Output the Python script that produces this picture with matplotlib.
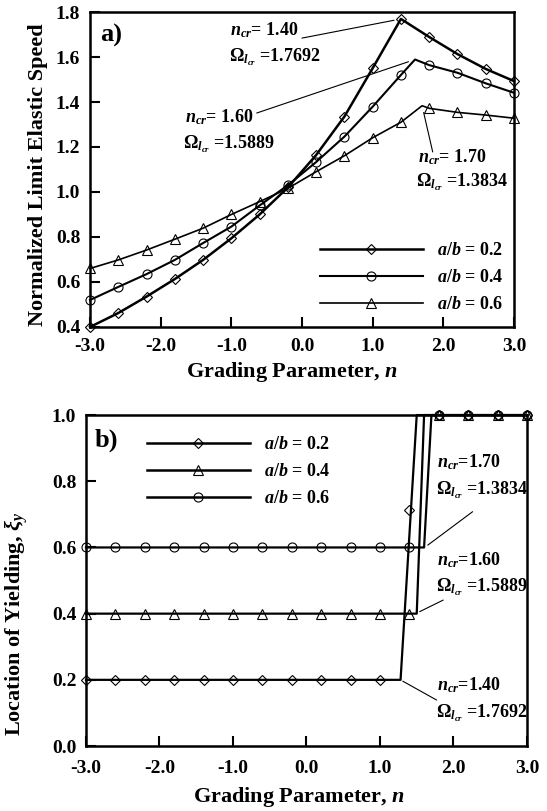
import numpy as np
import matplotlib
matplotlib.use('Agg')
import matplotlib.pyplot as plt

plt.rcParams['font.family'] = 'Liberation Serif'
plt.rcParams['font.weight'] = 'bold'
plt.rcParams['mathtext.fontset'] = 'custom'
plt.rcParams['mathtext.rm'] = 'Liberation Serif:bold'
plt.rcParams['mathtext.it'] = 'Liberation Serif:italic:bold'
plt.rcParams['mathtext.bf'] = 'Liberation Serif:bold'

# ---- panel a) data: normalized limit elastic speed ----
n_grid = [-3.0, -2.6, -2.2, -1.8, -1.4, -1.0, -0.6, -0.2, 0.2, 0.6, 1.0, 1.4, 1.8, 2.2, 2.6, 3.0]
speed_02 = [0.40, 0.462, 0.535, 0.613, 0.698, 0.794, 0.90, 1.02, 1.164, 1.335, 1.55, 1.7692, 1.689, 1.613, 1.547, 1.493]
speed_04 = [0.52, 0.578, 0.635, 0.698, 0.773, 0.846, 0.94, 1.03, 1.133, 1.246, 1.379, 1.52, 1.564, 1.53, 1.483, 1.441]
speed_06 = [0.66, 0.698, 0.742, 0.79, 0.839, 0.90, 0.957, 1.016, 1.09, 1.161, 1.241, 1.31, 1.372, 1.354, 1.342, 1.328]
n_cr = [1.40, 1.60, 1.70]
omega_cr = [1.7692, 1.5889, 1.3834]
ab_labels = ['0.2', '0.4', '0.6']

# ---- panel b) data: location of yielding ----
xi_02 = [0.2, 0.2, 0.2, 0.2, 0.2, 0.2, 0.2, 0.2, 0.2, 0.2, 0.2, 0.713, 1.0, 1.0, 1.0, 1.0]
xi_04 = [0.4, 0.4, 0.4, 0.4, 0.4, 0.4, 0.4, 0.4, 0.4, 0.4, 0.4, 0.4, 1.0, 1.0, 1.0, 1.0]
xi_06 = [0.6, 0.6, 0.6, 0.6, 0.6, 0.6, 0.6, 0.6, 0.6, 0.6, 0.6, 0.6, 1.0, 1.0, 1.0, 1.0]
xi_line_n_02 = [-3.0, 1.28, 1.50, 3.0]
xi_line_02 = [0.2, 0.2, 1.0, 1.0]
xi_line_n_04 = [-3.0, 1.50, 1.60, 3.0]
xi_line_04 = [0.4, 0.4, 1.0, 1.0]
xi_line_n_06 = [-3.0, 1.60, 1.70, 3.0]
xi_line_06 = [0.6, 0.6, 1.0, 1.0]


def with_peak(n, v, pn, pv):
    n = list(n)
    v = list(v)
    if pn not in n:
        n.append(pn)
        v.append(pv)
    order = np.argsort(n)
    return np.array(n)[order], np.array(v)[order]


def style_axes(ax, pad_x):
    for s in ax.spines.values():
        s.set_linewidth(1.8)
    ax.tick_params(direction='in', length=7, width=1.5, labelsize=14)
    ax.tick_params(axis='x', pad=pad_x)
    ax.tick_params(axis='y', pad=7)
    ax.set_xlim(-3, 3)
    ax.set_xticks(np.arange(-3, 3.1, 1.0))
    ax.set_xticklabels([f'{t:.1f}' for t in np.arange(-3, 3.1, 1.0)])


fig = plt.figure(figsize=(5.47, 8.11), dpi=100)
ax1 = fig.add_axes([0.1645, 0.5968, 0.7751, 0.3884])
ax2 = fig.add_axes([0.1572, 0.0801, 0.8062, 0.4081])

# ---------------- panel a ----------------
markers_a = ['D', 'o', '^']
msizes = [5, 6.5, 7.5]
lws_a = [1.8, 1.5, 1.2]
for vals, pn, pv, m, ms, lw, lab in zip([speed_02, speed_04, speed_06], n_cr, omega_cr,
                                      markers_a, msizes, lws_a, ab_labels):
    ln, lv = with_peak(n_grid, vals, pn, pv)
    ax1.plot(ln, lv, color='black', lw=lw, clip_on=False)
    ax1.plot(n_grid, vals, ls='none', marker=m, ms=ms, mfc='none', mec='black', mew=0.8,
             clip_on=False)
    ax1.plot([], [], color='black', lw=lw, marker=m, ms=ms, mfc='none', mec='black', mew=0.8,
             label=f'$a/b$ = {lab}')

style_axes(ax1, 8)
ax1.set_ylim(0.4, 1.8)
ax1.set_yticks(np.arange(0.4, 1.81, 0.2))
ax1.set_yticklabels([f'{t:.1f}' for t in np.arange(0.4, 1.81, 0.2)])
ax1.set_xlabel('Grading Parameter, $n$', fontsize=16, fontweight='bold')
ax1.set_ylabel('Normalized Limit Elastic Speed', fontsize=16, fontweight='bold')
ax1.xaxis.set_label_coords(0.475, -0.105)
ax1.yaxis.set_label_coords(-0.098, 0.485)
ax1.text(0.024, 0.925, 'a)', transform=ax1.transAxes, fontsize=19, va='center')

ax1.legend(loc='center left', bbox_to_anchor=(0.542, 0.156), frameon=False, fontsize=13,
           handlelength=5.7, handletextpad=0.8, labelspacing=0.55, borderpad=0,
           borderaxespad=0)

ann_a = [((-1.02, 1.72), (-1.03, 1.60), (0.0, 1.684)),
         ((-1.66, 1.333), (-1.68, 1.213), (-0.64, 1.351)),
         ((1.64, 1.156), (1.62, 1.044), (1.85, 1.178))]
for (t1, t2, start), pn, pv in zip(ann_a, n_cr, omega_cr):
    ax1.text(t1[0], t1[1], f'$n_{{cr}}$= {pn:.2f}', fontsize=13, va='center')
    ax1.text(t2[0], t2[1], f'$\\Omega_{{l_{{cr}}}}$ ={pv:.4f}', fontsize=13, va='center')
    ax1.annotate('', xy=(pn, pv), xytext=start,
                 arrowprops=dict(arrowstyle='-', lw=0.8, color='black', shrinkA=0, shrinkB=5))

# ---------------- panel b ----------------
markers_b = [('D', 5), ('^', 7.5), ('o', 6.5)]
b_lines = [(xi_line_n_02, xi_line_02, xi_02, '0.2'),
           (xi_line_n_04, xi_line_04, xi_04, '0.4'),
           (xi_line_n_06, xi_line_06, xi_06, '0.6')]
for (ln, lv, mv, lab), (m, ms) in zip(b_lines, markers_b):
    ax2.plot(ln, lv, color='black', lw=1.6, clip_on=False)
    ax2.plot(n_grid, mv, ls='none', marker=m, ms=ms, mfc='none', mec='black', mew=0.8,
             clip_on=False)
    ax2.plot([], [], color='black', lw=1.8, marker=m, ms=ms, mfc='none', mec='black', mew=0.8,
             label=f'$a/b$ = {lab}')

style_axes(ax2, 10)
ax2.set_ylim(0, 1.0)
ax2.set_yticks(np.arange(0, 1.01, 0.2))
ax2.set_yticklabels([f'{t:.1f}' for t in np.arange(0, 1.01, 0.2)])
ax2.set_xlabel('Grading Parameter, $n$', fontsize=16, fontweight='bold')
ax2.set_ylabel('Location of Yielding, $\\xi_y$', fontsize=16, fontweight='bold')
ax2.xaxis.set_label_coords(0.482, -0.118)
ax2.yaxis.set_label_coords(-0.128, 0.37)
ax2.text(0.02, 0.924, 'b)', transform=ax2.transAxes, fontsize=19, va='center')

ax2.legend(loc='center left', bbox_to_anchor=(0.138, 0.829), frameon=False, fontsize=13,
           handlelength=5.7, handletextpad=0.8, labelspacing=0.55, borderpad=0,
           borderaxespad=0)

ann_b = [((1.78, 0.184), (1.76, 0.10), (1.77, 0.139), (1.31, 0.196)),
         ((1.78, 0.562), (1.76, 0.481), (1.86, 0.441), (1.54, 0.406)),
         ((1.78, 0.859), (1.76, 0.773), (2.26, 0.708), (1.65, 0.607))]
for (t1, t2, start, end), pn, pv in zip(ann_b, n_cr, omega_cr):
    ax2.text(t1[0], t1[1], f'$n_{{cr}}$={pn:.2f}', fontsize=13, va='center')
    ax2.text(t2[0], t2[1], f'$\\Omega_{{l_{{cr}}}}$ ={pv:.4f}', fontsize=13, va='center')
    ax2.annotate('', xy=end, xytext=start,
                 arrowprops=dict(arrowstyle='-', lw=0.8, color='black', shrinkA=0, shrinkB=0))

fig.savefig('out.png', dpi=100)
